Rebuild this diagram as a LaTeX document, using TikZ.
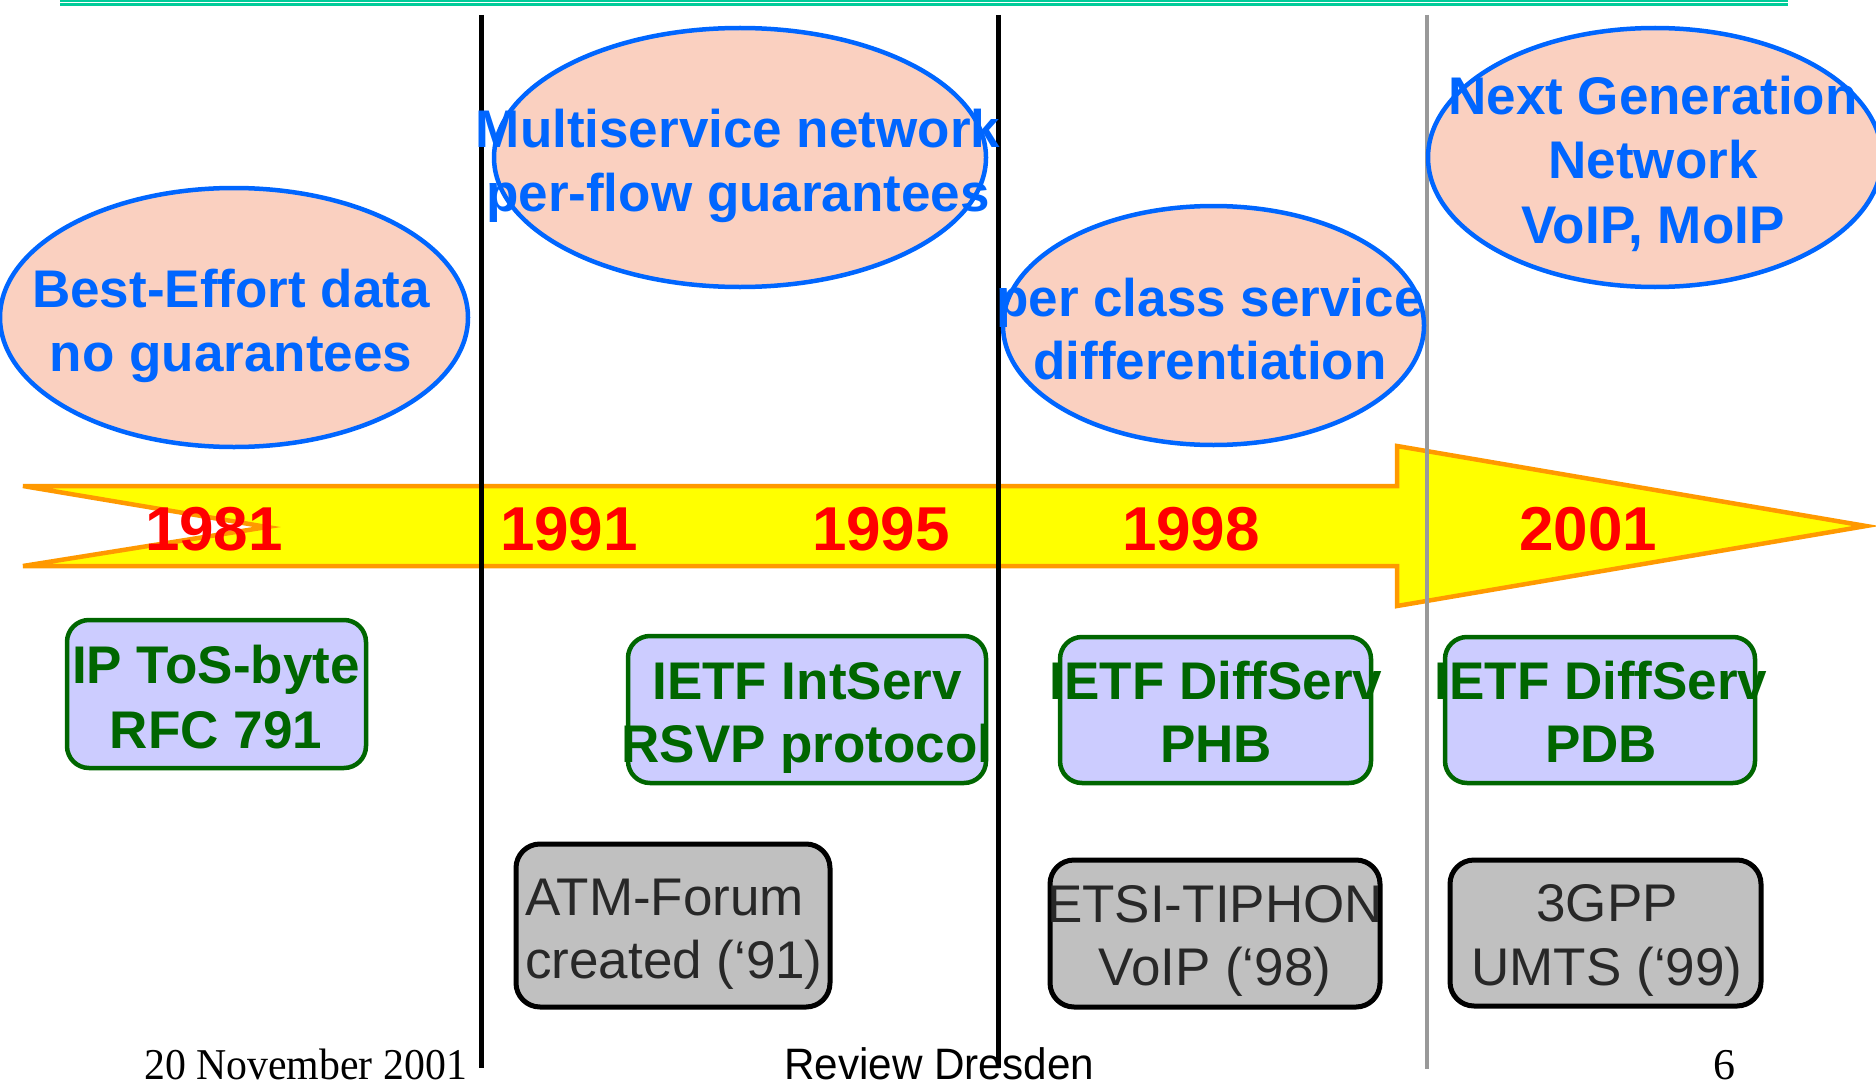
\documentclass[tikz,border=0pt]{standalone}
\usepackage{fontspec}
\setmainfont{Liberation Sans}
\newfontfamily\timesf{Liberation Serif}
\usetikzlibrary{shapes.geometric}
\definecolor{eblue}{HTML}{0066FF}
\definecolor{epeach}{HTML}{FAD0C0}
\definecolor{dgreen}{HTML}{006600}
\definecolor{lav}{HTML}{CCCCFF}
\definecolor{boxgray}{HTML}{C0C0C0}
\definecolor{dtext}{HTML}{282828}
\definecolor{arrowfill}{HTML}{FFFF00}
\definecolor{arroworange}{HTML}{FF9900}
\definecolor{topline}{HTML}{00CC99}
\definecolor{lgray}{HTML}{999999}
\tikzset{
  ell/.style={ellipse, draw=eblue, fill=epeach, line width=4.5pt, inner sep=0pt},
  etext/.style={anchor=base, inner sep=0pt, text=eblue, font=\fontsize{53}{64}\selectfont\bfseries},
  gbox/.style={rectangle, rounded corners=22pt, draw=dgreen, fill=lav, line width=4.5pt, inner sep=0pt},
  gtext/.style={anchor=base, inner sep=0pt, text=dgreen, font=\fontsize{53}{64}\selectfont\bfseries},
  xbox/.style={rectangle, rounded corners=24pt, draw=black, fill=boxgray, line width=5pt, inner sep=0pt},
  xtext/.style={anchor=base, inner sep=0pt, text=dtext, font=\fontsize{53}{64}\selectfont},
  yeartext/.style={anchor=base, inner sep=0pt, text=red, font=\fontsize{62}{70}\selectfont\bfseries},
  vline/.style={line width=4.5pt},
  arrowbody/.style={fill=arrowfill, draw=arroworange, line width=4.5pt},
  foot/.style={anchor=base west, inner sep=0pt, text=black}
}
\begin{document}
\begin{tikzpicture}[x=1pt,y=-1pt]
\path[use as bounding box] (0,0) rectangle (1876,1089);
% top rule
\coordinate (tl1) at (60,0.8);
\coordinate (tr1) at (1788,0.8);
\coordinate (tl2) at (60,4.7);
\coordinate (tr2) at (1788,4.7);
\draw[topline, line width=1.6pt] (tl1) -- (tr1);
\draw[topline, line width=2.6pt] (tl2) -- (tr2);
% arrow
\draw[arrowbody] (23,486) -- (1397,486) -- (1397,446) -- (1866,526) -- (1397,606) -- (1397,566) -- (23,566) -- (267,527) -- cycle;
% vertical lines
\coordinate (v1t) at (481.5,15);
\coordinate (v1b) at (481.5,1068);
\coordinate (v2t) at (998.5,15);
\coordinate (v2b) at (998.5,1068);
\coordinate (v3t) at (1427,15);
\coordinate (v3b) at (1427,1069);
\draw[vline] (v1t) -- (v1b);
\draw[vline] (v2t) -- (v2b);
\draw[vline, lgray] (v3t) -- (v3b);
% ellipses
\node[ell, minimum width=468pt, minimum height=259pt] (e1) at (234,317.5) {};
\node[ell, minimum width=492pt, minimum height=259pt] (e2) at (740,157.5) {};
\node[ell, minimum width=421pt, minimum height=239pt] (e3) at (1213.5,325.5) {};
\node[ell, minimum width=454pt, minimum height=259pt] (e4) at (1655,157.5) {};
\node[etext] (e1a) at (231,307) {Best-Effort data};
\node[etext] (e1b) at (231,371) {no guarantees};
\node[etext] (e2a) at (738,147) {Multiservice network};
\node[etext] (e2b) at (738,211) {per-flow guarantees};
\node[etext] (e3a) at (1210,316) {per class service};
\node[etext] (e3b) at (1210,379) {differentiation};
\node[etext] (e4a) at (1653,115) {Next Generation};
\node[etext] (e4b) at (1653,178) {Network};
\node[etext] (e4c) at (1653,243) {VoIP, MoIP};
% years
\node[yeartext] (y1) at (214,550) {1981};
\node[yeartext] (y2) at (569,550) {1991};
\node[yeartext] (y3) at (881,550) {1995};
\node[yeartext] (y4) at (1191,550) {1998};
\node[yeartext] (y5) at (1588,550) {2001};
% green boxes
\node[gbox, minimum width=299pt, minimum height=148pt] (g1) at (216.5,694) {};
\node[gbox, minimum width=358pt, minimum height=147pt] (g2) at (807,709.5) {};
\node[gbox, minimum width=311pt, minimum height=146pt] (g3) at (1215.5,710) {};
\node[gbox, minimum width=310pt, minimum height=146pt] (g4) at (1600,710) {};
\node[gtext] (g1a) at (216,683) {IP ToS-byte};
\node[gtext] (g1b) at (216,748) {RFC 791};
\node[gtext] (g2a) at (807,699) {IETF IntServ};
\node[gtext] (g2b) at (807,762) {RSVP protocol};
\node[gtext] (g3a) at (1216,699) {IETF DiffServ};
\node[gtext] (g3b) at (1216,762) {PHB};
\node[gtext] (g4a) at (1601,699) {IETF DiffServ};
\node[gtext] (g4b) at (1601,762) {PDB};
% gray boxes
\node[xbox, minimum width=314pt, minimum height=163pt] (x1) at (673,925.5) {};
\node[xbox, minimum width=330pt, minimum height=147pt] (x2) at (1215,933.5) {};
\node[xbox, minimum width=311pt, minimum height=146pt] (x3) at (1605.5,933) {};
\node[xtext, anchor=base west] (x1a) at (525,915) {ATM-Forum};
\node[xtext, anchor=base west] (x1b) at (525,978) {created (‘91)};
\node[xtext] (x2a) at (1215,922) {ETSI-TIPHON};
\node[xtext] (x2b) at (1215,985) {VoIP (‘98)};
\node[xtext] (x3a) at (1607,921) {3GPP};
\node[xtext] (x3b) at (1607,985) {UMTS (‘99)};
% footer
\node[foot] (f1) at (144,1079) {\timesf\fontsize{44}{50}\selectfont\scalebox{0.95}[1]{20 November 2001}};
\node[foot] (f2) at (784,1079) {\fontsize{44}{50}\selectfont\scalebox{0.96}[1]{Review Dresden}};
\node[foot] (f3) at (1713,1079) {\timesf\fontsize{44}{50}\selectfont 6};
\end{tikzpicture}
\end{document}
